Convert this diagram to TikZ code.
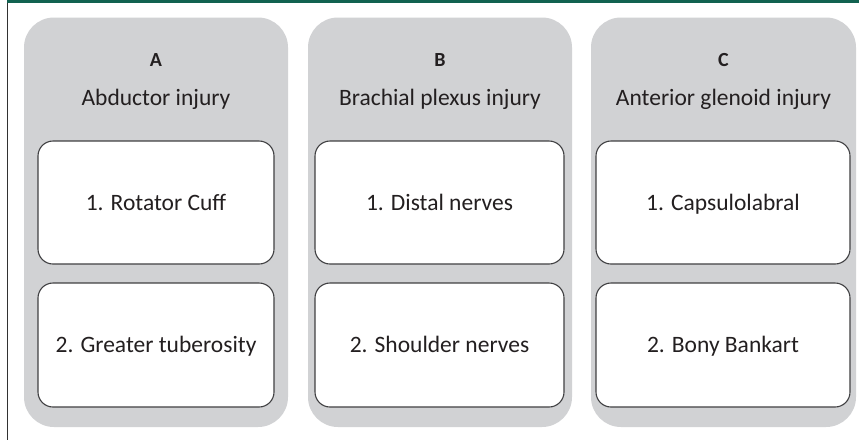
\documentclass[tikz,border=0pt]{standalone}
\usepackage{fontspec}
\setmainfont{Carlito}
\begin{document}
\begin{tikzpicture}[x=1pt,y=-1pt,
  panel/.style={draw=none,fill=panelgray,rounded corners=30pt,inner sep=0pt,outer sep=0pt},
  itembox/.style={draw=boxline,line width=1.1pt,fill=white,rounded corners=15pt,inner sep=0pt,
    text height=15.2pt,text depth=0pt,font=\fontsize{23.5}{28}\selectfont,text=txt},
  letter/.style={anchor=base,font=\fontsize{20}{24}\selectfont\bfseries,text=txt,inner sep=0pt},
  heading/.style={anchor=base,font=\fontsize{23.5}{28}\selectfont,text=txt,inner sep=0pt}]
\definecolor{panelgray}{RGB}{209,210,212}
\definecolor{boxline}{RGB}{64,64,66}
\definecolor{txt}{RGB}{35,31,32}
\definecolor{topgreen}{RGB}{18,98,80}
\useasboundingbox[fill=white] (0,0) rectangle (859,440);
% frame
\coordinate (tl) at (7,1.2);
\coordinate (tr) at (859,1.2);
\coordinate (lt) at (7.5,0);
\coordinate (lb) at (7.5,440);
\draw[line width=1.6pt,draw={rgb,255:red,50;green,50;blue,50}] (lt) -- (lb);
\draw[line width=2.6pt,draw=topgreen] (tl) -- (tr);
% panels
\node[panel,minimum width=264pt,minimum height=409.5pt] (pA) at (156,222.25) {};
\node[panel,minimum width=264pt,minimum height=409.5pt] (pB) at (440,222.25) {};
\node[panel,minimum width=265pt,minimum height=409.5pt] (pC) at (723.5,222.25) {};
% titles
\node[letter] (lA) at (156,66.7) {A};
\node[heading] (hA) at (156,105) {Abductor injury};
\node[letter] (lB) at (440,66.7) {B};
\node[heading] (hB) at (440,105) {Brachial plexus injury};
\node[letter] (lC) at (723.5,66.7) {C};
\node[heading] (hC) at (723.5,105) {Anterior glenoid injury};
% boxes
\node[itembox,minimum width=236pt,minimum height=123pt] (a1) at (156,202.5) {1. Rotator Cuff};
\node[itembox,minimum width=236pt,minimum height=124pt] (a2) at (156,345) {2. Greater tuberosity};
\node[itembox,minimum width=249pt,minimum height=123pt] (b1) at (439.5,202.5) {1. Distal nerves};
\node[itembox,minimum width=249pt,minimum height=124pt] (b2) at (439.5,345) {2. Shoulder nerves};
\node[itembox,minimum width=254pt,minimum height=123pt] (c1) at (723,202.5) {1. Capsulolabral};
\node[itembox,minimum width=254pt,minimum height=124pt] (c2) at (723,345) {2. Bony Bankart};
\end{tikzpicture}
\end{document}
